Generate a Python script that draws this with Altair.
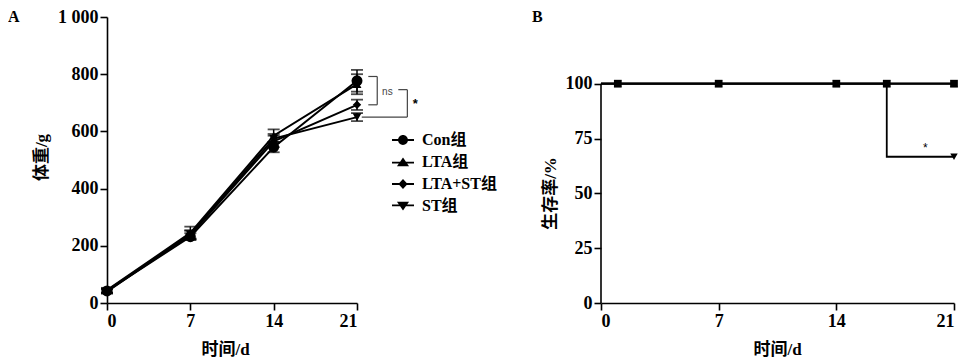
import altair as alt
import pandas as pd

FONT = "'Liberation Serif', 'Noto Sans CJK SC', serif"

# ---------------- Panel A data: body weight ----------------
days = [0, 7, 14, 21]
groups = ["Con组", "LTA组", "LTA+ST组", "ST组"]
weight_con = [42, 232, 545, 777]
weight_lta = [45, 245, 585, 765]
weight_ltast = [43, 238, 565, 693]
weight_st = [40, 240, 575, 650]
sd_con = [8, 12, 18, 38]
sd_lta = [8, 22, 22, 35]
sd_ltast = [7, 15, 20, 18]
sd_st = [7, 14, 16, 14]

# significance brackets (data units of panel A)
br_x = [21.95, 22.7, 21.95, 24.47, 25.23, 21.4]
br_x2 = [22.7, 22.7, 22.7, 25.23, 25.23, 25.23]
br_y = [792, 792, 693, 746, 746, 650]
br_y2 = [792, 693, 693, 746, 650, 650]
sig_text = ["ns", "*"]
sig_x = [23.55, 25.9]
sig_y = [737, 697]

# ---------------- Panel B data: survival ----------------
surv_t = [1, 7, 14, 17, 21]
surv_con = [100, 100, 100, 100, 100]
surv_lta = [100, 100, 100, 100, 100]
surv_ltast = [100, 100, 100, 100, 100]
surv_st = [100, 100, 100, 100, 66.7]
line_t_full = [0, 21]
line_s_full = [100, 100]
line_t_st = [0, 17, 21]
line_s_st = [100, 66.7, 66.7]
star_b_x = [19.3]
star_b_y = [70.5]

shapes = ["circle", "triangle-up", "diamond", "triangle-down"]
sizes = [120, 80, 70, 80]
shapes_b = ["square", "triangle-up", "diamond", "triangle-down"]
sizes_b = [60, 55, 40, 55]
legend_paths = [
    "M-0.45,0A0.45,0.45,0,1,1,0.45,0A0.45,0.45,0,1,1,-0.45,0ZM-1,-0.08L1,-0.08L1,0.08L-1,0.08Z",
    "M0,-0.42L0.55,0.38L-0.55,0.38ZM-1,-0.02L1,-0.02L1,0.14L-1,0.14Z",
    "M0,-0.45L0.42,0L0,0.45L-0.42,0ZM-1,-0.08L1,-0.08L1,0.08L-1,0.08Z",
    "M0,0.42L-0.55,-0.38L0.55,-0.38ZM-1,-0.14L1,-0.14L1,0.02L-1,0.02Z",
]

# ---------- build tables ----------
rows = []
for g, w, s in zip(groups, [weight_con, weight_lta, weight_ltast, weight_st],
                   [sd_con, sd_lta, sd_ltast, sd_st]):
    for d, wv, sv in zip(days, w, s):
        rows.append({"group": g, "day": d, "w": wv, "lo": wv - sv, "hi": wv + sv})
dfA = pd.DataFrame(rows)

dfBr = pd.DataFrame({"x": br_x, "x2": br_x2, "y": br_y, "y2": br_y2})
dfSig = pd.DataFrame({"x": sig_x, "y": sig_y, "t": sig_text})

rowsB = []
for g, s in zip(groups, [surv_con, surv_lta, surv_ltast, surv_st]):
    for t, v in zip(surv_t, s):
        rowsB.append({"group": g, "t": t, "s": v})
dfB = pd.DataFrame(rowsB)

rowsL = []
for g in groups:
    if g == "ST组":
        for t, v in zip(line_t_st, line_s_st):
            rowsL.append({"group": g, "t": t, "s": v})
    else:
        for t, v in zip(line_t_full, line_s_full):
            rowsL.append({"group": g, "t": t, "s": v})
dfBL = pd.DataFrame(rowsL)

WA, HA = 250, 286
WB, HB = 353, 286
B_TOP = 100 * HB / 219.3

axis_common = dict(labelFont=FONT, labelFontSize=18, labelFontWeight="bold",
                   labelColor="black", titleFont=FONT, titleFontSize=17,
                   titleFontWeight="bold", titleColor="black", grid=False,
                   domainColor="black", domainWidth=1.6, tickColor="black",
                   tickWidth=1.6, tickSize=7, labelPadding=2)

xA = alt.X("day:Q", scale=alt.Scale(domain=[0, 21], nice=False),
           axis=alt.Axis(values=days, title="时间/d", titleX=118, titleY=46,
                         titleBaseline="middle", **axis_common))
yA = alt.Y("w:Q", scale=alt.Scale(domain=[0, 1000], nice=False),
           axis=alt.Axis(values=[0, 200, 400, 600, 800, 1000],
                         labelExpr="datum.value == 1000 ? '1 000' : datum.label",
                         title="体重/g", titleX=-66, titleY=140,
                         titleBaseline="middle", titleAlign="center", **axis_common))

baseA = alt.Chart(dfA)
linesA = baseA.mark_line(color="black", strokeWidth=2).encode(x=xA, y=yA, detail="group:N")
errA = baseA.mark_rule(color="black", strokeWidth=1.5).encode(x="day:Q", y="lo:Q", y2="hi:Q")
capLo = baseA.mark_tick(color="black", orient="horizontal", size=12, thickness=1.8).encode(x="day:Q", y="lo:Q")
capHi = baseA.mark_tick(color="black", orient="horizontal", size=12, thickness=1.8).encode(x="day:Q", y="hi:Q")
ptsA = [baseA.transform_filter(alt.datum.group == g)
        .mark_point(shape=sh, filled=True, color="black", size=sz, opacity=1)
        .encode(x="day:Q", y="w:Q")
        for g, sh, sz in zip(groups, shapes, sizes)]
legendA = baseA.transform_filter("datum.day < 0").mark_point(
    filled=True, color="black", opacity=1, size=484).encode(
    x="day:Q", y="w:Q",
    shape=alt.Shape("group:N", scale=alt.Scale(domain=groups, range=legend_paths),
                    legend=alt.Legend(title=None, orient="none", legendX=285, legendY=112,
                                      symbolSize=484, symbolStrokeWidth=0,
                                      symbolFillColor="black",
                                      symbolOpacity=1, labelFont=FONT, labelFontSize=16,
                                      labelFontWeight="bold", labelColor="black",
                                      rowPadding=3, labelOffset=8, padding=0)))
brA = alt.Chart(dfBr).mark_rule(color="#444", strokeWidth=1.2).encode(
    x="x:Q", x2="x2:Q", y="y:Q", y2="y2:Q")
sigNs = alt.Chart(dfSig.iloc[:1]).mark_text(font="Liberation Sans", fontSize=10, color="#444").encode(
    x="x:Q", y="y:Q", text="t:N")
sigStar = alt.Chart(dfSig.iloc[1:]).mark_text(font="Liberation Sans", fontSize=13, fontWeight="bold", color="black").encode(
    x="x:Q", y="y:Q", text="t:N")
letterA = alt.Chart(pd.DataFrame({"t": ["A"]})).mark_text(
    align="left", baseline="middle", font=FONT, fontSize=16, fontWeight="bold", color="black").encode(
    x=alt.value(-99), y=alt.value(0), text="t:N")

panelA = alt.layer(linesA, errA, capLo, capHi, *ptsA, legendA, brA, sigNs, sigStar, letterA).properties(
    width=WA, height=HA)

# ---------------- Panel B ----------------
xB = alt.X("t:Q", scale=alt.Scale(domain=[0, 21], nice=False),
           axis=alt.Axis(values=days, title="时间/d", titleX=176, titleY=46,
                         titleBaseline="middle", **axis_common))
yB = alt.Y("s:Q", scale=alt.Scale(domain=[0, B_TOP], nice=False),
           axis=alt.Axis(values=[0, 25, 50, 75, 100], domain=False, title="生存率/%",
                         titleX=-51, titleY=176, titleBaseline="middle", titleAlign="center",
                         **axis_common))
linesB = alt.Chart(dfBL).mark_line(color="black", strokeWidth=1.8, interpolate="step-after").encode(
    x=xB, y=yB, detail="group:N")
ptsB = [alt.Chart(dfB).transform_filter(alt.datum.group == g)
        .mark_point(shape=sh, filled=True, color="black", size=sz, opacity=1)
        .encode(x="t:Q", y="s:Q")
        for g, sh, sz in zip(groups, shapes_b, sizes_b)]
yDomB = alt.Chart(pd.DataFrame({"t": [0], "s0": [0], "s1": [100]})).mark_rule(
    color="black", strokeWidth=1.6).encode(x="t:Q", y="s0:Q", y2="s1:Q")
starB = alt.Chart(pd.DataFrame({"t": star_b_x, "s": star_b_y, "lab": ["*"]})).mark_text(
    font="Liberation Sans", fontSize=12, color="black").encode(
    x="t:Q", y="s:Q", text="lab:N")
letterB = alt.Chart(pd.DataFrame({"t": ["B"]})).mark_text(
    align="left", baseline="middle", font=FONT, fontSize=16, fontWeight="bold", color="black").encode(
    x=alt.value(-69), y=alt.value(0), text="t:N")

panelB = alt.layer(linesB, yDomB, *ptsB, starB, letterB).properties(width=WB, height=HB)

chart = alt.hconcat(panelA, panelB, spacing=114).properties(padding=0).configure_view(stroke=None)

chart.save("out.html", embed_options={"renderer": "svg", "actions": False})
